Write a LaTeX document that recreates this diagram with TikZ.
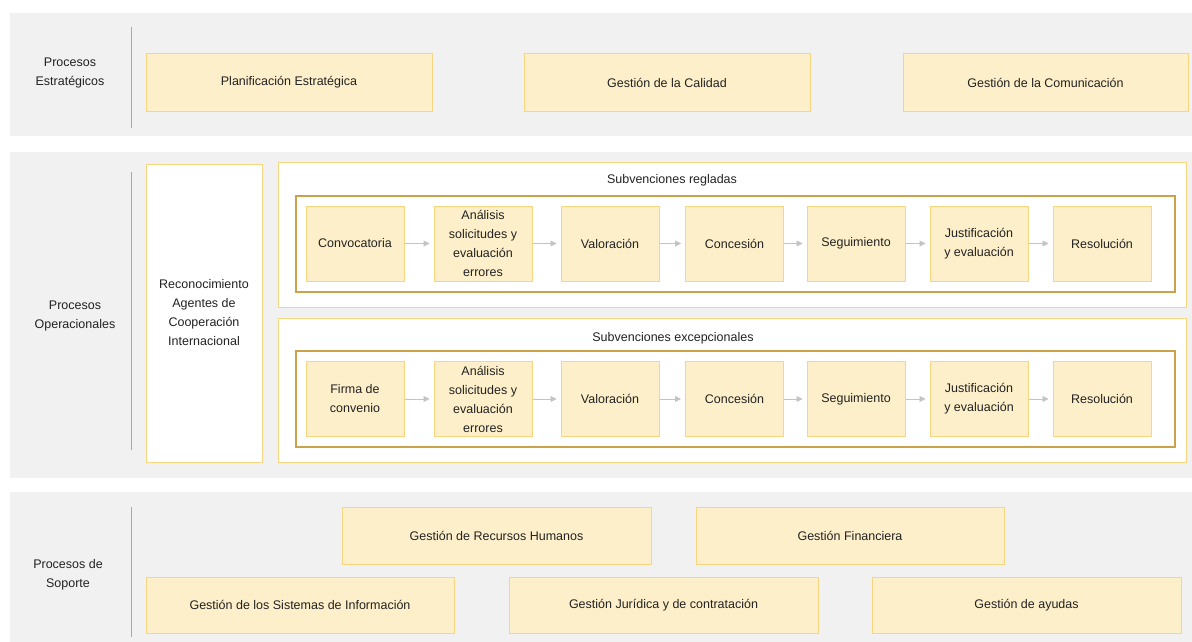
\documentclass[tikz,border=0pt]{standalone}
\usepackage{fontspec}
\setmainfont{Liberation Sans}
\usetikzlibrary{arrows.meta}
\definecolor{bandgray}{HTML}{F1F1F1}
\definecolor{boxfill}{HTML}{FDEFC9}
\definecolor{boxline}{HTML}{F8D67F}
\definecolor{frameline}{HTML}{C9A24A}
\definecolor{divline}{HTML}{A8A8A8}
\definecolor{arrowgray}{HTML}{C4C4C4}
\definecolor{txt}{HTML}{222222}
\tikzset{
  every node/.style={text=txt,font=\fontsize{12.5}{19}\selectfont,align=center},
  procbox/.style={draw=boxline,fill=boxfill,line width=1pt,minimum width=#1,minimum height=57},
  stepbox/.style={draw=boxline,fill=boxfill,line width=1pt,minimum width=98,minimum height=75,inner sep=0pt},
  outerbox/.style={draw=boxline,fill=white,line width=1pt},
  innerbox/.style={draw=frameline,line width=1.2pt},
  flow/.style={draw=arrowgray,line width=0.8pt,-{Triangle[length=6pt,width=6pt]},shorten >=4pt}
}
\begin{document}
\begin{tikzpicture}[x=1pt,y=-1pt]
  \useasboundingbox (0,0) rectangle (1192,642);
  % bands
  \fill[bandgray] (10,13) rectangle (1192,136);
  \fill[bandgray] (10,152) rectangle (1192,478);
  \fill[bandgray] (10,492) rectangle (1192,642);
  \draw[divline] (131,27) -- (131,128);
  \draw[divline] (131,172) -- (131,450);
  \draw[divline] (131,507) -- (131,637);
  % estrategicos
  \node (lestr) at (70,73) {Procesos\\Estratégicos};
  \node[procbox=286] (plan) at (289,82.5) {Planificación Estratégica};
  \node[procbox=286] (cal) at (667,82.5) {Gestión de la Calidad};
  \node[procbox=285] (com) at (1045.5,82.5) {Gestión de la Comunicación};
  % operacionales
  \node (lop) at (75,316) {Procesos\\Operacionales};
  \node[outerbox,minimum width=116,minimum height=298] (recon) at (204,313)
    {Reconocimiento\\Agentes de\\Cooperación\\Internacional};
  \draw[outerbox] (278,162) rectangle (1186,307);
  \node (treg) at (672,180) {Subvenciones regladas};
  \draw[innerbox] (296,196) rectangle (1175,292);
  \draw[outerbox] (278,318) rectangle (1186,462);
  \node (texc) at (673,338) {Subvenciones excepcionales};
  \draw[innerbox] (296,351) rectangle (1175,447);
  % subvenciones regladas
  \node[stepbox] (r1) at (355,243.5) {Convocatoria};
  \node[stepbox] (r2) at (483,243.5) {Análisis\\solicitudes y\\evaluación\\errores};
  \node[stepbox] (r3) at (610,243.5) {Valoración};
  \node[stepbox] (r4) at (734.5,243.5) {Concesión};
  \node[stepbox] (r5) at (856,243.5) {Seguimiento};
  \node[stepbox] (r6) at (979,243.5) {Justificación\\y evaluación};
  \node[stepbox] (r7) at (1102,243.5) {Resolución};
  % subvenciones excepcionales
  \node[stepbox] (e1) at (355,399) {Firma de\\convenio};
  \node[stepbox] (e2) at (483,399) {Análisis\\solicitudes y\\evaluación\\errores};
  \node[stepbox] (e3) at (610,399) {Valoración};
  \node[stepbox] (e4) at (734.5,399) {Concesión};
  \node[stepbox] (e5) at (856,399) {Seguimiento};
  \node[stepbox] (e6) at (979,399) {Justificación\\y evaluación};
  \node[stepbox] (e7) at (1102,399) {Resolución};
  \foreach \a/\b in {1/2,2/3,3/4,4/5,5/6,6/7} {
    \draw[flow] (r\a) -- (r\b);
    \draw[flow] (e\a) -- (e\b);
  }
  % soporte
  \node (lsop) at (68,575) {Procesos de\\Soporte};
  \node[procbox=309] (rrhh) at (496.5,535.5) {Gestión de Recursos Humanos};
  \node[procbox=308] (fin) at (850,535.5) {Gestión Financiera};
  \node[procbox=308,minimum height=56] (sis) at (300,605) {Gestión de los Sistemas de Información};
  \node[procbox=309,minimum height=56] (jur) at (663.5,605) {Gestión Jurídica y de contratación};
  \node[procbox=309,minimum height=56] (ayu) at (1026.5,605) {Gestión de ayudas};
\end{tikzpicture}
\end{document}
